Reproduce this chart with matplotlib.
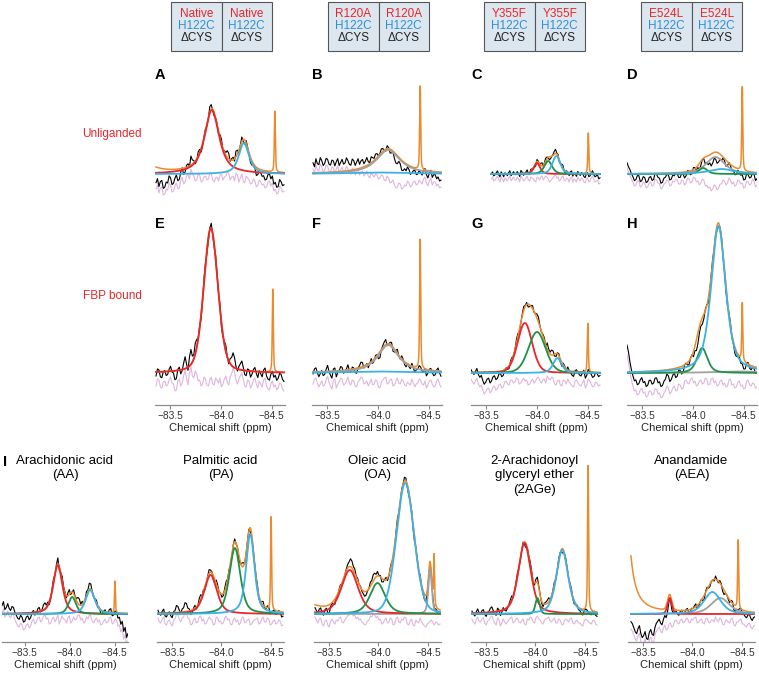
import numpy as np
import matplotlib.pyplot as plt
from matplotlib.patches import Rectangle

plt.rcParams['font.family'] = ['Liberation Sans', 'DejaVu Sans']

# ---------------- text content ----------------
mutants = ['Native', 'R120A', 'Y355F', 'E524L']
row_labels = ['Unliganded', 'FBP bound']
letters_top = ['A', 'B', 'C', 'D']
letters_mid = ['E', 'F', 'G', 'H']
ligands = ['Arachidonic acid\n(AA)', 'Palmitic acid\n(PA)', 'Oleic acid\n(OA)',
           '2-Arachidonoyl\nglyceryl ether\n(2AGe)', 'Anandamide\n(AEA)']
tick_vals = [-83.5, -84.0, -84.5]

# ---------------- data ----------------
# fitted components: (component, centre ppm, height, fwhm ppm, lorentzian fraction)
# reference line: (centre ppm, height, fwhm ppm); extra baseline terms in the fit sum
# resid: data minus fit, read left to right across the span
A_peaks = [('p1', -83.91, 64, 0.17, 0.8), ('p3', -84.225, 31, 0.12, 0.7)]
A_ref = (-84.53, 61, 0.012)
A_extra = [(-83.20, 12, 0.30)]
A_span = (-83.36, -84.62)
A_resid = [-10, -6, -14, -9, -8, -16, -15, -10, -11, -4, -6, -13, -12, -7, -4, -10, -9, -2, 2, -5,
           -3, 3, 4, 0, 10, 5, 3, -2, -1, 5, 4, -3, -2, 2, 3, -1, 0, 6, 5, -1, -3, 1, 2, -2, 4, 5,
           -1, 2, 3, 7, 6, -1, 2, 3, -2, 6, 4, -3, 1, 5, -2, -4, 3, 1, -1, -5, -4, 0, -2, -8, -6,
           -1, -3, -6, -5, -9, -8, -3, -2, -7, -4, -12, -10, -15, -14, -7, -9, -13, -12]

B_peaks = [('p0', -84.10, 24, 0.28, 0.9), ('p3', -84.00, 1.5, 0.8, 1.0)]
B_ref = (-84.415, 84, 0.012)
B_extra = []
B_span = (-83.36, -84.62)
B_resid = [10, 6, 14, 9, 8, 15, 12, 7, 9, 14, 13, 8, 7, 12, 11, 6, 10, 13, 6, 9, 12, 7, 8, 13, 10,
           6, 5, 11, 9, 4, 7, 10, 4, 7, 8, 3, 5, 8, 3, 1, 6, 4, 2, 5, 4, 0, 1, 4, 3, -1, -2, 3, 1,
           -4, -3, -1, -6, -9, -8, -4, -5, -10, -9, -6, -7, -2, -4, -8, -6, -3, -2, -6, -5, -1, -3,
           -5, 0, 2, -4, -7, -2, 1, -6, -3, -3, -7, -5, -9, -8]

C_peaks = [('p1', -84.00, 11, 0.07, 0.5), ('p2', -84.11, 13, 0.09, 0.5), ('p3', -84.19, 18, 0.09, 0.5)]
C_ref = (-84.505, 41, 0.012)
C_extra = []
C_span = (-83.55, -84.62)
C_resid = [0, 2, -2, -1, 1, 3, -1, -3, 2, 0, -3, 1, 0, -2, 1, 3, -2, 0, 2, -1, -1, 2, 0, -3, 3, 1,
           -2, -1, 1, 3, -1, -2, 2, 1, 0, -2, -3, 2, 1, -1, 2, 3, -1, 1, 3, 2, 0, -3, -2, 0, 1, 3,
           4, 1, 2, -2, -1, 2, 3, -1, -2, 1, 0, -3, 1, 2, -3, 0, -1, -3, 2, 0, -2, 1, 0, -3, -4, 0,
           1, -3, -2, 1, 3, -1, -3, -2, -1, -5, -4]

D_peaks = [('p0', -84.22, 17, 0.22, 0.6), ('p2', -84.10, 6, 0.10, 0.5), ('p3', -84.28, 5, 0.30, 0.8)]
D_ref = (-84.485, 84, 0.012)
D_extra = []
D_span = (-83.35, -84.63)
D_resid = [11, 7, 4, 0, -3, -7, -6, -2, -2, -8, -7, -3, -4, -9, -8, -4, -3, -7, -6, 0, -1, -4, -5,
           -10, -9, -5, -4, -1, -2, -7, -6, -2, -3, 0, -1, -5, -5, -1, -2, -6, -4, 1, 0, -4, -3, 2,
           1, -3, -2, -6, -4, 0, -1, -7, -6, -9, -8, -12, -10, -6, -7, -11, -9, -5, -5, -1, -2, -6,
           -4, 1, -1, -5, -3, -7, -6, -1, -2, -5, -4, -9, -8, -2, -3, -6, -5, 0, -2, -8, -6]

E_peaks = [('p1', -83.90, 145, 0.165, 0.3)]
E_ref = (-84.51, 84, 0.012)
E_extra = []
E_span = (-83.36, -84.62)
E_resid = [-4, 3, 2, -5, -6, 0, 1, -4, -3, 2, 5, -1, -2, -9, -8, 1, 3, -4, -1, 6, 12, 4, -3, 9, 15,
           6, 4, 11, 8, 1, 2, -4, -2, 5, 3, -3, -4, 2, 5, -2, -3, 4, 2, -1, 4, -5, -2, 3, 6, 0, -3,
           5, 8, 14, 10, 2, -2, 3, 6, 9, 3, -4, -5, 2, 1, -6, -3, 2, 4, -2, -6, 1, -2, -5, 2, 4,
           -4, -7, -8, -2, 1, -5, -3, -8, -6, -1, -2, -7, -9]

F_peaks = [('p0', -84.10, 28, 0.25, 0.9), ('p3', -84.00, 1.5, 0.8, 1.0)]
F_ref = (-84.415, 130, 0.012)
F_extra = []
F_span = (-83.36, -84.62)
F_resid = [-2, 3, 4, -1, -5, -2, 1, -4, -3, 2, 6, 0, -4, -7, 2, 3, -6, -2, 0, 4, 3, -3, -2, 1, 5,
           -1, -3, 2, 1, -4, -5, 0, 2, 5, 4, -2, -1, 1, -4, -1, 3, -3, -2, 2, 1, -5, -6, 0, 2, 4,
           5, -2, -1, 2, 3, -4, -3, 1, 4, -1, -2, 3, 1, -3, -4, 0, -2, -3, 3, -1, -5, -2, -1, 3, 2,
           -2, -3, 1, -6, -3, 1, 2, -2, -5, -4, 1, 3, -2, -5]

G_peaks = [('p1', -83.88, 50, 0.17, 0.2), ('p2', -84.00, 41, 0.20, 0.2), ('p3', -84.20, 15, 0.10, 0.5)]
G_ref = (-84.50, 49, 0.012)
G_extra = []
G_span = (-83.35, -84.62)
G_resid = [3, 0, -2, 1, 4, -2, -5, -3, -8, -12, -10, -7, -6, -11, -9, -5, -4, -8, -7, -3, -2, -6,
           -5, 0, 1, -2, -3, 2, 2, -1, 0, 4, 3, -2, -1, 2, 4, 1, 2, -3, -2, 1, 3, -1, 1, 4, 5, 1,
           -1, 2, 3, -1, 6, 3, 2, 5, 4, -2, -3, 1, 2, -3, -4, 2, 1, -2, 3, 0, -2, -4, -5, 1, 2, -1,
           -3, -4, -1, 2, -6, -3, 3, 1, -2, -5, -4, 0, -1, -4, -3]

H_peaks = [('p0', -84.45, 1.5, 0.6, 1.0), ('p2', -84.09, 25, 0.12, 0.5), ('p3', -84.25, 147, 0.17, 0.6)]
H_ref = (-84.485, 58, 0.012)
H_extra = [(-84.05, 8, 0.10)]
H_span = (-83.35, -84.63)
H_resid = [27, 20, 10, 2, -4, -9, -8, -13, -12, -8, -6, -11, -10, -15, -14, -9, -9, -13, -12, -7,
           -7, -12, -11, -16, -15, -11, -9, -4, -6, -12, -10, -6, -4, -9, -8, -2, -3, -7, -6, 1, 2,
           -1, -2, 3, 4, -1, 1, -4, -3, 1, 2, -2, -1, 4, 3, -3, -2, 3, 4, -1, 1, -4, -3, 1, 2, -3,
           -1, -5, -4, 2, 3, -3, -2, -6, -5, 0, 1, -4, -3, -7, -6, 1, 2, -3, -4, -1, -2, -6, -5]

AA_peaks = [('p1', -83.87, 49, 0.12, 0.6), ('p2', -84.03, 17, 0.10, 0.5), ('p3', -84.23, 24, 0.12, 0.6)]
AA_ref = (-84.505, 32, 0.012)
AA_extra = []
AA_span = (-83.25, -84.65)
AA_resid = [8, 12, 4, 6, 10, 5, 3, 7, 6, 1, -2, -5, -6, -2, -4, -9, -8, -4, -3, -7, -5, 0, 2, -3,
            -1, 3, 4, -1, 1, 5, 6, 2, 3, -3, -2, 2, 4, -1, 2, 6, -3, 1, 5, 2, 1, -2, 3, 5, -2, 0, 4,
            1, 2, 6, 6, 1, 3, -2, -1, 4, 2, 6, 5, 0, -2, 1, 3, -1, 1, -4, -3, 0, 2, -2, -1, 3, 4,
            -3, -2, 2, 1, -5, -4, -11, -8, -18, -14, -24, -20]

PA_peaks = [('p1', -83.89, 39, 0.15, 0.5), ('p2', -84.135, 66, 0.13, 0.5), ('p3', -84.29, 80, 0.10, 0.6)]
PA_ref = (-84.50, 94, 0.012)
PA_extra = []
PA_span = (-83.36, -84.62)
PA_resid = [3, -1, -2, 2, 4, -3, -4, 0, 1, -3, -5, 1, 2, 7, 6, 2, -1, 3, 4, 9, 8, 3, 2, -4, -3, 1,
            3, -2, -1, 4, 5, 0, 2, -3, -2, 1, 4, 2, 1, -4, -3, 4, 3, -1, 0, -3, -2, 3, 5, 1, 2, -3,
            -4, 1, 3, -1, 1, -4, -2, 3, 4, -2, -1, 1, 2, -4, -3, 0, 1, 2, 3, -3, -2, 2, 4, -1, -1,
            3, 2, -4, -3, 0, 1, -3, -2, 1, 0, -5, -4]

OA_peaks = [('p1', -83.71, 44, 0.20, 0.5), ('p2', -83.99, 31, 0.18, 0.5), ('p3', -84.27, 131, 0.21, 0.2),
            ('p0', -84.52, 45, 0.04, 0.5)]
OA_ref = (-84.56, 50, 0.012)
OA_extra = [(-83.20, 15, 0.30)]
OA_span = (-83.36, -84.62)
OA_resid = [4, 1, -2, 2, 3, -3, -5, 0, 1, -4, -6, 0, 2, -1, -3, 1, 0, 3, 4, -1, -2, 1, 3, 5, 6, 9,
            8, 5, 6, 2, 4, 1, 2, -1, -2, -4, -3, 0, 1, 5, 4, 7, 6, 3, 5, 1, 2, -3, -2, 1, 3, -2, -1,
            3, 2, -4, -3, 2, 4, -1, -2, 2, 1, 4, 3, -3, -4, 0, 2, -4, -5, 1, -1, -2, 3, -1, -3, -5,
            -6, -3, -2, 0, 1, -2, -4, -1, -2, -4, -3]

AGe_peaks = [('p1', -83.89, 71, 0.15, 0.5), ('p2', -84.02, 16, 0.05, 0.3), ('p3', -84.27, 64, 0.14, 0.5)]
AGe_ref = (-84.53, 146, 0.012)
AGe_extra = []
AGe_span = (-83.36, -84.62)
AGe_resid = [2, -1, -3, 1, 4, 0, -1, 2, 3, -2, -4, 0, 1, 4, 5, 1, -2, -4, 3, 1, -5, -2, 2, -1, -3,
             -1, 1, 3, 4, -2, -1, 2, 3, -1, -2, 0, 2, -3, -4, 2, 1, 4, 3, -1, -2, 3, 5, 2, 1, -2,
             -3, 1, 2, 3, 4, 0, -1, 1, 3, -2, -2, 2, 1, -3, -4, 0, 2, 1, -1, 2, 3, -2, -3, 0, 1, -2,
             -2, -4, -5, 0, 2, 1, -1, -2, -3, 0, 1, -3, -4]

AEA_peaks = [('p0', -84.28, 16, 0.22, 0.5), ('p1', -83.77, 16, 0.05, 0.3), ('p3', -84.20, 22, 0.20, 0.5)]
AEA_ref = (-84.46, 69, 0.012)
AEA_extra = [(-83.28, 700, 0.06)]
AEA_span = (-83.38, -84.63)
AEA_resid = [-8, -10, -14, -18, -20, -15, -12, -20, -24, -22, -18, -25, -26, -19, -16, -21, -22, -14,
             -10, -8, -6, -10, -12, -7, -4, -9, -8, -3, -2, -6, -5, 0, 1, -2, -3, 1, 2, -2, -1, 2,
             3, -1, -2, 2, 1, 3, 4, -2, -1, 1, 2, -2, -3, 2, 3, -1, -2, 1, 1, -1, 4, 1, -1, 3, 2, -3,
             -4, 0, 1, -1, -2, 2, 3, -4, -5, -1, -1, 1, 2, -3, -3, -5, -6, -3, -2, -6, -8, -5, -4]

# ---------------- style ----------------
RED, GREEN, BLUE = '#e8262b', '#1f9148', '#3cb1e5'
ORANGE, GRAY, PINK = '#eb8b2d', '#a0a0a0', '#dfb6dd'
comp_color = {'p0': GRAY, 'p1': RED, 'p2': GREEN, 'p3': BLUE}
comp_order = ['p0', 'p1', 'p2', 'p3']

W, H = 759, 673
fig = plt.figure(figsize=(W / 100, H / 100), dpi=100)


def px_axes(left, top, width, height):
    return fig.add_axes([left / W, 1 - (top + height) / H, width / W, height / H])


def shape(x, c, h, w, eta=0.5):
    u = (x - c) / w
    return h * (eta / (1 + 4 * u ** 2) + (1 - eta) * np.exp(-4 * np.log(2) * u ** 2))


def draw_panel(ax, peaks, ref, extra, span, resid, pink_off):
    xf = np.linspace(span[0], span[1], 900)
    xr = np.linspace(span[0], span[1], len(resid))
    resid = np.array(resid, dtype=float)
    total = shape(xf, *ref)
    fit_r = np.zeros_like(xr)
    for p in peaks:
        total = total + shape(xf, *p[1:])
        fit_r = fit_r + shape(xr, *p[1:])
    for e in extra:
        total = total + shape(xf, *e, 1.0)
    ax.plot(xr, resid + pink_off, color=PINK, lw=0.8, zorder=1)
    ax.plot(xr, fit_r + resid, color='black', lw=0.8, zorder=2)
    ax.plot(xf, total, color=ORANGE, lw=1.1, zorder=3)
    for key in comp_order:
        for p in peaks:
            if p[0] == key:
                ax.plot(xf, shape(xf, *p[1:]), color=comp_color[key], lw=1.3, zorder=4)


def style_axis(ax, xlim, show_axis):
    ax.set_xlim(*xlim)
    ax.patch.set_alpha(0)
    for s in ['top', 'right', 'left']:
        ax.spines[s].set_visible(False)
    ax.set_yticks([])
    if show_axis:
        ax.spines['bottom'].set_color('#8a8a8a')
        ax.spines['bottom'].set_linewidth(0.9)
        ax.set_xticks(tick_vals)
        ax.set_xticklabels(['\u2212%.1f' % abs(t) for t in tick_vals])
        ax.tick_params(axis='x', length=3, width=0.8, color='#8a8a8a', pad=1.5,
                       labelsize=7.3, labelcolor='#333333')
        ax.set_xlabel('Chemical shift (ppm)', fontsize=8, labelpad=1.5, color='#222222')
    else:
        ax.spines['bottom'].set_visible(False)
        ax.set_xticks([])


# ---------------- overlay canvas for boxes / labels ----------------
canvas = px_axes(0, 0, W, H)
canvas.set_xlim(0, W)
canvas.set_ylim(H, 0)
canvas.axis('off')

box_left = [171, 328, 484, 641]
for i, m in enumerate(mutants):
    for k in range(2):
        x0 = box_left[i] + k * 50.5
        canvas.add_patch(Rectangle((x0, 2), 50.5, 49, facecolor='#dce6ef',
                                   edgecolor='#555555', lw=0.8))
        cx = x0 + 25.25
        canvas.text(cx, 14, m, color=RED, fontsize=8.5, ha='center', va='center')
        canvas.text(cx, 26, 'H122C', color='#2d8fd5', fontsize=8.5, ha='center', va='center')
        canvas.text(cx, 38, '\u0394CYS', color='#222222', fontsize=8.5, ha='center', va='center')

canvas.text(112, 134, row_labels[0], color=RED, fontsize=8.5, ha='center', va='center')
canvas.text(112, 296, row_labels[1], color=RED, fontsize=8.5, ha='center', va='center')

col_left = [155, 312, 471, 627]
for i in range(4):
    canvas.text(col_left[i], 75, letters_top[i], fontsize=10.5, weight='bold', ha='left', va='center')
    canvas.text(col_left[i], 224, letters_mid[i], fontsize=10.5, weight='bold', ha='left', va='center')
canvas.text(3, 462, 'I', fontsize=10.5, weight='bold', ha='left', va='center')

bot_left = [2, 157, 314, 471, 628]
bot_width = [126, 127, 127, 127, 127]
for i, lab in enumerate(ligands):
    canvas.text(bot_left[i] + bot_width[i] / 2, 455, lab, fontsize=9.5, ha='center', va='top',
                linespacing=1.25)

# ---------------- panels ----------------
std_xlim = (-83.35, -84.63)
row1 = [(A_peaks, A_ref, A_extra, A_span, A_resid), (B_peaks, B_ref, B_extra, B_span, B_resid),
        (C_peaks, C_ref, C_extra, C_span, C_resid), (D_peaks, D_ref, D_extra, D_span, D_resid)]
row2 = [(E_peaks, E_ref, E_extra, E_span, E_resid), (F_peaks, F_ref, F_extra, F_span, F_resid),
        (G_peaks, G_ref, G_extra, G_span, G_resid), (H_peaks, H_ref, H_extra, H_span, H_resid)]
row3 = [(AA_peaks, AA_ref, AA_extra, AA_span, AA_resid), (PA_peaks, PA_ref, PA_extra, PA_span, PA_resid),
        (OA_peaks, OA_ref, OA_extra, OA_span, OA_resid), (AGe_peaks, AGe_ref, AGe_extra, AGe_span, AGe_resid),
        (AEA_peaks, AEA_ref, AEA_extra, AEA_span, AEA_resid)]

# (top px, baseline px, axis px, pink offset)
rows = [(60, 174, 205, -5), (200, 373, 405, -9), (455, 614, 642, -7)]

for r, panels in enumerate([row1, row2]):
    top, base, bottom, poff = rows[r]
    for i, pdata in enumerate(panels):
        ax = px_axes(col_left[i], top, 130, bottom - top)
        draw_panel(ax, *pdata, poff)
        style_axis(ax, std_xlim, show_axis=(r == 1))
        ax.set_ylim(-(bottom - base), base - top)

top, base, bottom, poff = rows[2]
for i, pdata in enumerate(row3):
    ax = px_axes(bot_left[i], top, bot_width[i], bottom - top)
    draw_panel(ax, *pdata, poff)
    style_axis(ax, (-83.25, -84.65) if i == 0 else std_xlim, show_axis=True)
    ax.set_ylim(-(bottom - base), base - top)

fig.savefig('out.png', dpi=100)
